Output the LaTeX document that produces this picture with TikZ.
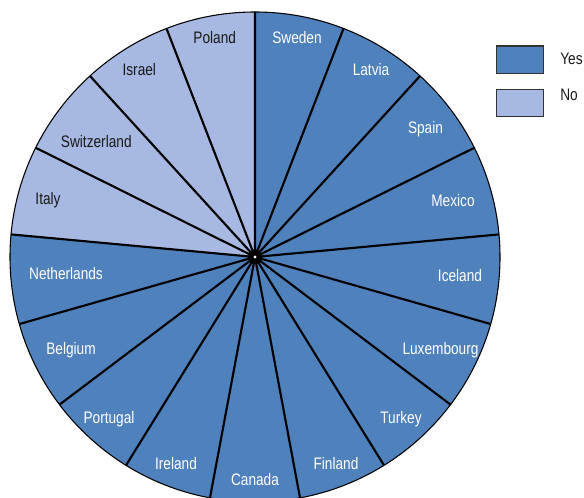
\documentclass[tikz,border=0pt]{standalone}
\usepackage{fontspec}
\usepackage{tikz}
\usetikzlibrary{positioning}
\newfontfamily\chartfont{Liberation Sans}[FakeStretch=0.82]
\definecolor{yesblue} {RGB}{ 79, 129, 189}
\definecolor{nolilac} {RGB}{167, 185, 226}

\begin{document}
\begin{tikzpicture}[
  x=0.75pt, y=-0.75pt,
  every node/.style={font=\chartfont\fontsize{12.5}{14}\selectfont,
                     inner sep=0pt, text height=0.72em, text depth=0pt},
  inlbl/.style={text=white},
  outlbl/.style={text=black!90},
  spoke/.style={draw=black, line width=1.6pt},
  rim/.style={draw=black, line width=0.8pt},
  legbox/.style={draw=black!80, line width=0.8pt,
                 minimum width=35pt, minimum height=20.5pt},
]
\useasboundingbox (0,0) rectangle (584,498);

%% ── Pie: 17 equal wedges, 13 Yes + 4 No ────────────────────────────────
\coordinate (O) at (255,257);
\fill[yesblue] (O) -- +(-90:245) arc[start angle=-90, end angle=185.294, radius=245] -- cycle;
\fill[nolilac] (O) -- +(185.294:245) arc[start angle=185.294, end angle=270, radius=245] -- cycle;
\draw[spoke] (O) -- +(-90:245)     (O) -- +(-68.824:245) (O) -- +(-47.647:245)
             (O) -- +(-26.471:245) (O) -- +(-5.294:245)  (O) -- +(15.882:245)
             (O) -- +(37.059:245)  (O) -- +(58.235:245)  (O) -- +(79.412:245)
             (O) -- +(100.588:245) (O) -- +(121.765:245) (O) -- +(142.941:245)
             (O) -- +(164.118:245) (O) -- +(185.294:245) (O) -- +(206.471:245)
             (O) -- +(227.647:245) (O) -- +(248.824:245);
\draw[rim] (O) circle[radius=245];
\fill[white] (O) circle[radius=1.6];

%% ── Yes labels ─────────────────────────────────────────────────────────
\node[inlbl] (sweden)      at (297,38.5)  {Sweden};
\node[inlbl] (latvia)      at (371,71)    {Latvia};
\node[inlbl] (spain)       at (425.5,128.7) {Spain};
\node[inlbl] (mexico)      at (453,201.7) {Mexico};
\node[inlbl] (iceland)     at (460,276.7) {Iceland};
\node[inlbl] (luxembourg)  at (440.5,350) {Luxembourg};
\node[inlbl] (turkey)      at (401,418.3) {Turkey};
\node[inlbl] (finland)     at (336,465)   {Finland};
\node[inlbl] (canada)      at (255,480.7) {Canada};
\node[inlbl] (ireland)     at (176,465)   {Ireland};
\node[inlbl] (portugal)    at (109,418.3) {Portugal};
\node[inlbl] (belgium)     at (71,350)    {Belgium};
\node[inlbl] (netherlands) at (66,274.5)  {Netherlands};

%% ── No labels ──────────────────────────────────────────────────────────
\node[outlbl] (italy)       at (48,199.7)  {Italy};
\node[outlbl] (switzerland) at (96.3,143)  {Switzerland};
\node[outlbl] (israel)      at (139.3,71)  {Israel};
\node[outlbl] (poland)      at (214.7,38.7) {Poland};

%% ── Legend ─────────────────────────────────────────────────────────────
\node[legbox,fill=yesblue] (yesbox) at (520,59.7)  {};
\node[legbox,fill=nolilac] (nobox)  at (520,103.2) {};
\node[outlbl,anchor=west] (yestxt) at (560,60) {Yes};
\node[outlbl,anchor=west] (notxt)  at (560,96) {No};

\end{tikzpicture}
\end{document}
